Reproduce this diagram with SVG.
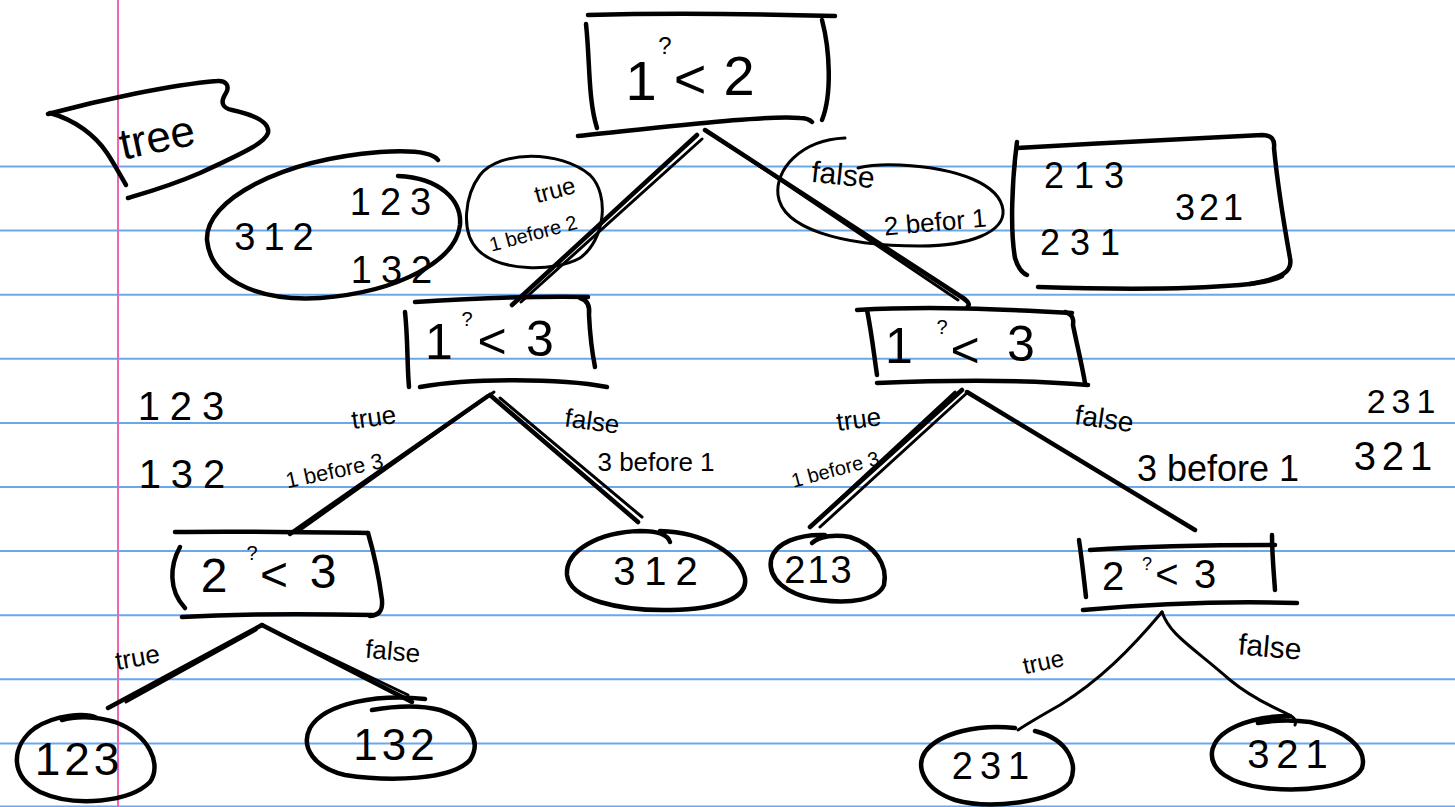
<svg xmlns="http://www.w3.org/2000/svg" width="1455" height="807" viewBox="0 0 1455 807">
  <defs>
    <style>
      .rule { stroke: #6aa8ee; stroke-width: 2; }
      .margin { stroke: #f064b4; stroke-width: 2; }
      .ink { fill: none; stroke: #000; stroke-width: 4.5; stroke-linecap: round; stroke-linejoin: round; }
      .thin { fill: none; stroke: #000; stroke-width: 3; stroke-linecap: round; stroke-linejoin: round; }
      .t { font-family: "Liberation Sans", Arial, sans-serif; fill: #000; text-anchor: middle; }
    </style>
  </defs>

  <!-- lined paper -->
  <rect width="1455" height="807" fill="#fff"/>
  <g id="paper">
    <line class="rule" x1="0" y1="166.5" x2="1455" y2="166.5"/>
    <line class="rule" x1="0" y1="230.6" x2="1455" y2="230.6"/>
    <line class="rule" x1="0" y1="294.7" x2="1455" y2="294.7"/>
    <line class="rule" x1="0" y1="358.8" x2="1455" y2="358.8"/>
    <line class="rule" x1="0" y1="422.9" x2="1455" y2="422.9"/>
    <line class="rule" x1="0" y1="487" x2="1455" y2="487"/>
    <line class="rule" x1="0" y1="551.1" x2="1455" y2="551.1"/>
    <line class="rule" x1="0" y1="615.2" x2="1455" y2="615.2"/>
    <line class="rule" x1="0" y1="679.3" x2="1455" y2="679.3"/>
    <line class="rule" x1="0" y1="743.4" x2="1455" y2="743.4"/>
    <line class="rule" x1="0" y1="806.5" x2="1455" y2="806.5"/>
    <line class="margin" x1="118" y1="0" x2="118" y2="807"/>
  </g>

  <!-- connectors -->
  <g id="connectors">
    <path class="ink" d="M697,135 L512,305"/>
    <path class="thin" d="M702,139 L521,302"/>
    <path class="ink" d="M705,130 L960,296 C968,301 970,304 968,306"/>
    <path class="thin" d="M712,134 L958,300"/>

    <path class="ink" d="M488,396 L290,534"/>
    <path class="thin" d="M494,392 L300,530"/>
    <path class="ink" d="M490,395 L638,522"/>
    <path class="thin" d="M500,398 L642,517"/>

    <path class="ink" d="M962,390 L810,527"/>
    <path class="thin" d="M968,392 L820,527"/>
    <path class="thin" d="M955,392 L815,522"/>
    <path class="ink" d="M967,392 L1195,530"/>

    <path class="ink" d="M262,625 L108,708"/>
    <path class="thin" d="M256,630 L126,702"/>
    <path class="ink" d="M262,625 L412,702"/>
    <path class="thin" d="M268,628 L408,695"/>

    <path class="thin" d="M1162,612 C1130,650 1100,680 1060,705 Q1030,722 1018,730"/>
    <path class="thin" d="M1162,612 C1170,635 1190,645 1230,680 C1270,713 1300,712 1295,725"/>
  </g>

  <!-- edge labels -->
  <g id="edge-labels">
    <text class="t" x="557" y="198" font-size="24" transform="rotate(-15 557 198)">true</text>
    <text class="t" x="535" y="240" font-size="20" transform="rotate(-15 535 240)">1 before 2</text>
    <text class="t" x="842" y="185" font-size="30" transform="rotate(6 842 185)">false</text>
    <text class="t" x="936" y="231" font-size="26" transform="rotate(-5 936 231)">2 befor 1</text>

    <text class="t" x="375" y="426" font-size="26" transform="rotate(-8 375 426)">true</text>
    <text class="t" x="336" y="478" font-size="22" transform="rotate(-12 336 478)">1 before 3</text>
    <text class="t" x="591" y="430" font-size="26" transform="rotate(8 591 430)">false</text>
    <text class="t" x="656" y="471" font-size="26">3 before 1</text>

    <text class="t" x="860" y="428" font-size="26" transform="rotate(-8 860 428)">true</text>
    <text class="t" x="837" y="476" font-size="20" transform="rotate(-15 837 476)">1 before 3</text>
    <text class="t" x="1103" y="428" font-size="28" transform="rotate(8 1103 428)">false</text>
    <text class="t" x="1218" y="481" font-size="36">3 before 1</text>

    <text class="t" x="139" y="666" font-size="26" transform="rotate(-10 139 666)">true</text>
    <text class="t" x="392" y="660" font-size="26" transform="rotate(5 392 660)">false</text>
    <text class="t" x="1045" y="670" font-size="24" transform="rotate(-12 1045 670)">true</text>
    <text class="t" x="1269" y="657" font-size="30" transform="rotate(5 1269 657)">false</text>
  </g>

  <!-- root comparison 1 ? 2 -->
  <g id="root">
    <path class="ink" d="M588,15 C660,13 760,14 835,16"/>
    <path class="ink" d="M586,24 C590,60 588,100 597,128"/>
    <path class="ink" d="M822,20 C830,50 832,95 822,120"/>
    <path class="ink" d="M578,136 C660,128 760,115 800,118 C806,118 810,120 812,122"/>
    <text class="t" x="641" y="100" font-size="56">1</text>
    <text class="t" x="665" y="54" font-size="24">?</text>
    <text class="t" x="690" y="98" font-size="56">&lt;</text>
    <text class="t" x="739" y="95" font-size="56">2</text>
  </g>

  <!-- left comparison 1 ? 3 -->
  <g id="cmp13-left">
    <path class="ink" d="M415,302 C480,298 540,296 588,297"/>
    <path class="ink" d="M405,312 C408,340 407,365 409,387"/>
    <path class="ink" d="M580,298 C588,300 590,306 589,315 C590,335 592,352 595,367"/>
    <path class="ink" d="M420,387 C470,378 560,378 607,387"/>
    <text class="t" x="439" y="359" font-size="50">1</text>
    <text class="t" x="467" y="326" font-size="20">?</text>
    <text class="t" x="492" y="358" font-size="50">&lt;</text>
    <text class="t" x="540" y="356" font-size="50">3</text>
  </g>

  <!-- right comparison 1 ? 3 -->
  <g id="cmp13-right">
    <path class="ink" d="M857,310 C930,306 1000,309 1072,313"/>
    <path class="ink" d="M867,310 C872,335 874,355 877,375"/>
    <path class="ink" d="M1065,312 C1072,314 1074,318 1073,325 C1077,345 1082,365 1085,383"/>
    <path class="ink" d="M877,383 C950,380 1030,380 1088,385"/>
    <text class="t" x="899" y="363" font-size="50">1</text>
    <text class="t" x="942" y="334" font-size="20">?</text>
    <text class="t" x="965" y="367" font-size="50">&lt;</text>
    <text class="t" x="1021" y="361" font-size="50">3</text>
  </g>

  <!-- left comparison 2 ? 3 -->
  <g id="cmp23-left">
    <path class="ink" d="M175,532 C240,531 300,532 368,533"/>
    <path class="ink" d="M180,547 C170,565 168,590 185,608"/>
    <path class="ink" d="M368,533 C376,560 380,585 382,600 C383,612 378,615 370,616"/>
    <path class="ink" d="M182,617 C250,613 320,614 373,615"/>
    <text class="t" x="214" y="592" font-size="48">2</text>
    <text class="t" x="252" y="560" font-size="20">?</text>
    <text class="t" x="274" y="591" font-size="48">&lt;</text>
    <text class="t" x="323" y="588" font-size="48">3</text>
  </g>

  <!-- right comparison 2 ? 3 -->
  <g id="cmp23-right">
    <path class="ink" d="M1090,550 C1150,546 1220,545 1275,545"/>
    <path class="ink" d="M1079,540 C1082,560 1084,580 1086,597"/>
    <path class="ink" d="M1272,535 C1272,555 1274,575 1275,590"/>
    <path class="ink" d="M1083,610 C1150,604 1230,601 1297,603"/>
    <text class="t" x="1113" y="590" font-size="40">2</text>
    <text class="t" x="1147" y="570" font-size="18">?</text>
    <text class="t" x="1167" y="588" font-size="40">&lt;</text>
    <text class="t" x="1205" y="588" font-size="40">3</text>
  </g>

  <!-- leaves -->
  <g id="leaf-312">
    <path class="ink" d="M670,542 C668,535 660,531 640,531 C600,532 565,550 567,575 C570,600 620,611 670,610 C720,609 748,598 745,578 C740,555 705,532 660,531"/>
    <text class="t" x="660" y="585" font-size="40" style="letter-spacing:9px">312</text>
  </g>
  <g id="leaf-213">
    <path class="ink" d="M812,543 C820,536 835,534 850,537 C875,545 888,565 884,585 C878,600 850,604 820,600 C785,595 768,578 771,560 C775,542 800,534 825,535"/>
    <text class="t" x="819" y="583" font-size="38" style="letter-spacing:2px">213</text>
  </g>
  <g id="leaf-123">
    <path class="ink" d="M97,718 C85,712 55,715 35,728 C12,745 8,775 40,792 C75,808 130,802 150,782 C162,765 150,735 115,722 C95,716 75,716 62,720"/>
    <text class="t" x="79" y="775" font-size="46" style="letter-spacing:4px">123</text>
  </g>
  <g id="leaf-132">
    <path class="ink" d="M372,710 C395,706 420,705 440,710 C470,720 482,742 470,760 C452,780 390,782 345,775 C315,768 300,748 310,728 C325,702 380,694 425,699"/>
    <text class="t" x="396" y="760" font-size="44" style="letter-spacing:4px">132</text>
  </g>
  <g id="leaf-231">
    <path class="ink" d="M1035,731 C1070,740 1078,765 1070,782 C1055,802 990,810 955,800 C925,790 915,768 925,752 C940,732 980,724 1015,728"/>
    <text class="t" x="994" y="779" font-size="38" style="letter-spacing:7px">231</text>
  </g>
  <g id="leaf-321">
    <path class="ink" d="M1258,723 C1275,720 1295,720 1310,722 C1345,730 1368,748 1362,768 C1352,788 1300,792 1265,788 C1230,784 1210,770 1212,752 C1215,730 1250,716 1290,716"/>
    <text class="t" x="1291" y="768" font-size="40" style="letter-spacing:7px">321</text>
  </g>

  <!-- "tree" banner -->
  <g id="tree-banner">
    <path class="ink" d="M48,114 C100,100 170,85 217,81 C226,80 230,86 226,93 C220,102 222,108 232,110 C255,115 270,122 268,133 C265,142 250,150 200,173 C170,186 145,193 128,198"/>
    <path class="ink" d="M50,113 C75,120 95,135 107,153 C115,165 120,175 126,185"/>
    <text class="t" x="160" y="152" font-size="44" transform="rotate(-12 160 152)">tree</text>
  </g>

  <!-- remaining orders when 1 before 2 -->
  <g id="note-true">
    <path class="ink" d="M398,176 C440,178 462,200 460,225 C456,260 400,292 320,298 C250,302 210,275 207,240 C205,200 280,160 380,152 C410,150 432,152 438,160"/>
    <text class="t" x="278" y="250" font-size="38" style="letter-spacing:8px">312</text>
    <text class="t" x="395" y="215" font-size="38" style="letter-spacing:9px">123</text>
    <text class="t" x="396" y="283" font-size="38" style="letter-spacing:9px">132</text>
  </g>

  <!-- "true / 1 before 2" circle -->
  <g id="note-true-label">
    <path class="thin" d="M480,175 C500,150 560,150 590,175 C610,195 605,240 580,258 C555,272 500,272 478,250 C460,232 465,195 480,175"/>
  </g>

  <!-- "false / 2 befor 1" circle -->
  <g id="note-false-label">
    <path class="thin" d="M845,138 C800,140 775,170 778,195 C782,228 840,246 920,246 C970,246 1005,232 1003,210 C1000,185 960,168 900,165 C880,164 866,166 858,168"/>
  </g>

  <!-- remaining orders when 2 before 1 -->
  <g id="note-false">
    <path class="ink" d="M1017,148 C1100,143 1200,138 1262,135 C1272,135 1275,140 1274,148 C1278,190 1285,230 1290,258 C1293,272 1282,278 1250,284"/>
    <path class="ink" d="M1017,142 C1012,180 1010,230 1015,258 C1018,268 1022,273 1027,275"/>
    <path class="ink" d="M1038,287 C1100,289 1180,290 1240,285 C1260,283 1275,280 1282,276"/>
    <text class="t" x="1089" y="188" font-size="36" style="letter-spacing:10px">213</text>
    <text class="t" x="1085" y="255" font-size="36" style="letter-spacing:10px">231</text>
    <text class="t" x="1211" y="220" font-size="36" style="letter-spacing:4px">321</text>
  </g>

  <!-- side lists for the 1 ? 3 level -->
  <g id="note-left">
    <text class="t" x="186" y="420" font-size="40" style="letter-spacing:10px">123</text>
    <text class="t" x="187" y="488" font-size="40" style="letter-spacing:10px">132</text>
  </g>
  <g id="note-right">
    <text class="t" x="1404" y="413" font-size="34" style="letter-spacing:6px">231</text>
    <text class="t" x="1396" y="470" font-size="40" style="letter-spacing:6px">321</text>
  </g>
</svg>
